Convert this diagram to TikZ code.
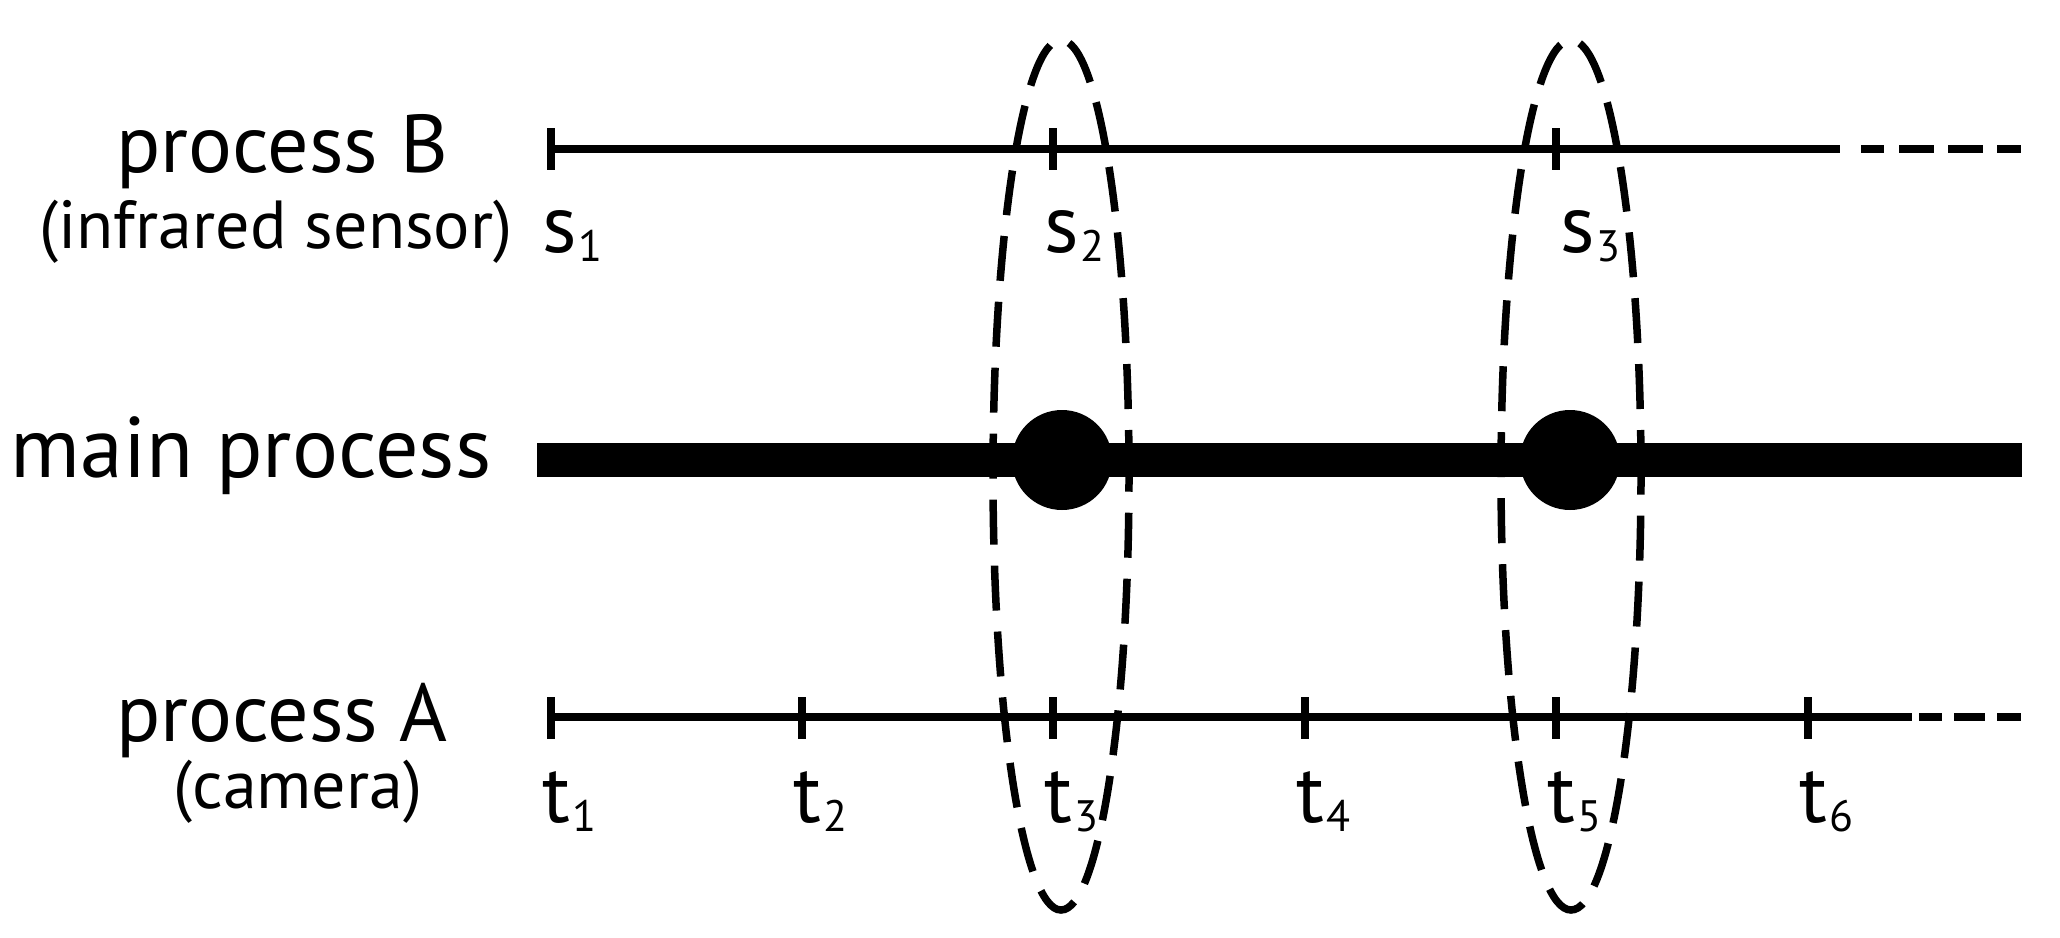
\documentclass[tikz,border=0pt]{standalone}
\usepackage{fontspec}
\setmainfont{PT Sans}
\newcommand\lblfont{\fontsize{82}{82}\selectfont}
\newcommand\mainfont{\fontsize{86}{86}\selectfont}
\newcommand\subfont{\fontsize{68}{68}\selectfont}
\newcommand\idx[1]{\kern2pt\raisebox{-9pt}{\fontsize{44}{44}\selectfont #1}}
\tikzset{
  thinline/.style={line width=8pt},
  tickmark/.style={line width=8pt},
  mainline/.style={line width=34pt},
  group/.style={line width=7.5pt, dash pattern=on 45pt off 21pt},
  lbl/.style={inner sep=0pt, anchor=base, font=\lblfont},
  sublbl/.style={inner sep=0pt, anchor=base, font=\subfont},
  idxlbl/.style={inner sep=0pt, anchor=base west, font=\lblfont},
}
\begin{document}
\begin{tikzpicture}[x=1pt,y=-1pt]
\useasboundingbox (0,0) rectangle (2060,937);
% labels on the left
\node[lbl] (pB) at (282,172) {process B};
\node[sublbl] (pBs) at (276,248) {(infrared sensor)};
\node[inner sep=0pt, anchor=base, font=\mainfont] (mp) at (251,477) {main process};
\node[lbl] (pA) at (282,741) {process A};
\node[sublbl] (pAs) at (298,808) {(camera)};
% process B
\draw[thinline] (551,149) -- (1840,149);
\foreach \a/\b in {1861/1884,1899/1934,1948/1983,1997/2021}
  \draw[thinline] (\a,149) -- (\b,149);
\foreach \x in {551,1053,1556}
  \draw[tickmark] (\x,128) -- (\x,170);
\node[idxlbl] (s1) at (542,252) {s\idx{1}};
\node[idxlbl] (s2) at (1044,252) {s\idx{2}};
\node[idxlbl] (s3) at (1560,252) {s\idx{3}};
% main process
\draw[mainline] (537,460) -- (2022,460);
\fill (1062,460) circle[radius=50pt];
\fill (1570,460) circle[radius=50pt];
% process A
\draw[thinline] (551,717) -- (1912,717);
\foreach \a/\b in {1919/1942,1954/1985,1997/2021}
  \draw[thinline] (\a,717) -- (\b,717);
\foreach \x in {551,802,1053,1305,1556,1808}
  \draw[tickmark] (\x,697) -- (\x,739);
\foreach \x/\i in {551/1,802/2,1053/3,1305/4,1556/5,1808/6}
  \node[idxlbl] (t\i) at (\x-9,822) {t\idx{\i}};
% grouping ellipses
\draw[group] (1061,475) ellipse[x radius=68pt, y radius=435pt];
\draw[group] (1571,475) ellipse[x radius=70pt, y radius=435pt];
\end{tikzpicture}
\end{document}
